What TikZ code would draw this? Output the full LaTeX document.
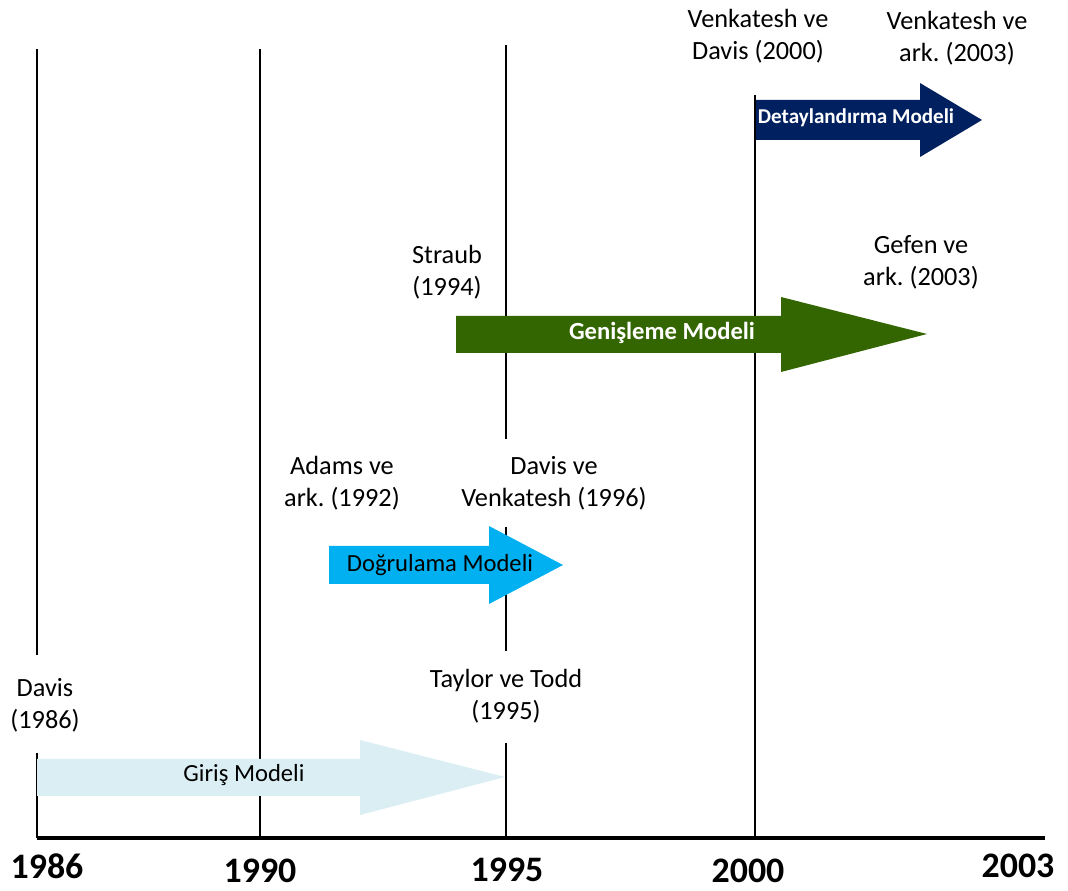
\documentclass[tikz,border=0pt]{standalone}
\usepackage{fontspec}
\setmainfont{Carlito}
\frenchspacing

\definecolor{girisblue}{HTML}{DAEEF3}
\definecolor{dogrublue}{HTML}{00B0F0}
\definecolor{genisgreen}{HTML}{336600}
\definecolor{detaynavy}{HTML}{002060}

\begin{document}
\begin{tikzpicture}[x=0.025cm,y=-0.025cm,
	ref/.style={align=center,inner sep=0pt,font=\fontsize{18.7}{22.7}\selectfont},
	yearlabel/.style={inner sep=0pt,font=\bfseries\fontsize{25.5}{30}\selectfont},
	modellabel/.style={inner sep=0pt,font=\fontsize{17.5}{20}\selectfont},
	tline/.style={line width=1.5pt}]
	\useasboundingbox (0,0) rectangle (1068,891);

	% year lines
	\draw[tline] (37,49) -- (37,655) (37,753) -- (37,838);
	\draw[tline] (260,49) -- (260,838);
	\draw[tline] (506,45) -- (506,439) (506,527) -- (506,651) (506,743) -- (506,838);
	\draw[tline] (755,95) -- (755,838);
	\draw[line width=3.5pt] (37,838) -- (1045,838);

	\foreach \x/\y/\t in {47/866/1986, 260/871/1990, 507/870/1995, 748/871/2000, 1018/866/2003}
		\node[yearlabel] (y\t) at (\x,\y) {\t};

	% model arrows
	\fill[girisblue] (37,759) -- (360,759) -- (360,740) -- (505,777) -- (360,815) -- (360,796) -- (37,796) -- cycle;
	\fill[dogrublue] (329,546) -- (489,546) -- (489,526) -- (563,565) -- (489,604) -- (489,584) -- (329,584) -- cycle;
	\fill[genisgreen] (456,316) -- (781,316) -- (781,297) -- (927,334) -- (781,372) -- (781,353) -- (456,353) -- cycle;
	\fill[detaynavy] (756,100) -- (920,100) -- (920,83) -- (982,120) -- (920,157) -- (920,140) -- (756,140) -- cycle;

	\node[modellabel] (giris) at (244,775) {Giriş Modeli};
	\node[modellabel] (dogrulama) at (440,565) {Doğrulama Modeli};
	\node[modellabel,text=white,font=\bfseries\fontsize{17.5}{20}\selectfont] (genisleme) at (662,333) {Genişleme Modeli};
	\node[modellabel,text=white,font=\bfseries\fontsize{15}{18}\selectfont] (detay) at (856,118) {Detaylandırma Modeli};

	% studies
	\node[ref] (davis86) at (45,705) {Davis\\(1986)};
	\node[ref] (taylor95) at (506,696) {Taylor ve Todd\\(1995)};
	\node[ref] (adams92) at (342,483) {Adams ve\\ark. (1992)};
	\node[ref] (davis96) at (554,483) {Davis ve\\Venkatesh (1996)};
	\node[ref] (straub94) at (447,272) {Straub\\(1994)};
	\node[ref] (gefen03) at (921,262) {Gefen ve\\ark. (2003)};
	\node[ref] (venk00) at (758,36) {Venkatesh ve\\Davis (2000)};
	\node[ref] (venk03) at (957,38) {Venkatesh ve\\ark. (2003)};

\end{tikzpicture}
\end{document}
